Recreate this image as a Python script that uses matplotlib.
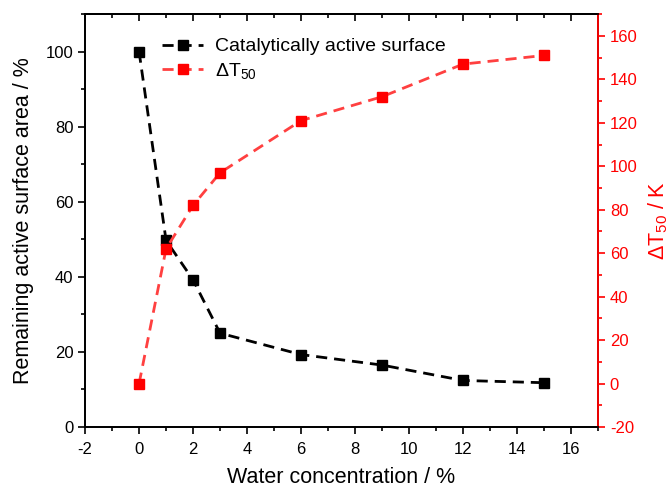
import matplotlib
matplotlib.use("Agg")
import matplotlib.pyplot as plt
from matplotlib.ticker import MultipleLocator

plt.rcParams["font.family"] = ["Liberation Sans", "DejaVu Sans"]
plt.rcParams["mathtext.default"] = "regular"
plt.rcParams["axes.unicode_minus"] = False

# data
water = [0, 1, 2, 3, 6, 9, 12, 15]
surface = [100, 49.7, 39.2, 25.0, 19.3, 16.5, 12.4, 11.8]
dT50 = [0, 62, 82, 97, 121, 132, 147, 151]

fig = plt.figure(figsize=(6.7, 4.88), dpi=100)
ax = fig.add_axes([0.127, 0.125, 0.7655, 0.846])
ax2 = ax.twinx()

l1, = ax.plot(water, surface, color="black", ls=(0, (4, 2.5)), lw=2,
              marker="s", ms=7, mec="black", mfc="black",
              label="Catalytically active surface")
l2, = ax2.plot(water, dT50, color="#ff4040", ls=(0, (4, 2.5)), lw=2,
               marker="s", ms=7, mec="red", mfc="red",
               label="ΔT$_{50}$")

ax.set_xlim(-2, 17)
ax.set_ylim(0, 110)
ax2.set_ylim(-20, 170)

ax.xaxis.set_major_locator(MultipleLocator(2))
ax.xaxis.set_minor_locator(MultipleLocator(1))
ax.yaxis.set_major_locator(MultipleLocator(20))
ax.yaxis.set_minor_locator(MultipleLocator(10))
ax2.yaxis.set_major_locator(MultipleLocator(20))
ax2.yaxis.set_minor_locator(MultipleLocator(10))

ax.tick_params(axis="x", which="major", length=5, width=1.2, labelsize=12, pad=6)
ax.tick_params(axis="x", which="minor", length=3, width=1.2)
ax.tick_params(axis="y", which="major", length=5, width=1.2, labelsize=12)
ax.tick_params(axis="y", which="minor", length=3, width=1.2)
ax2.tick_params(axis="y", which="major", length=5, width=1.2, labelsize=12,
                colors="red")
ax2.tick_params(axis="y", which="minor", length=3, width=1.2, colors="red")

# mirrored ticks on top point inward
top = ax.secondary_xaxis("top")
top.xaxis.set_major_locator(MultipleLocator(2))
top.xaxis.set_minor_locator(MultipleLocator(1))
top.tick_params(which="major", direction="in", length=5, width=1.2, labeltop=False)
top.tick_params(which="minor", direction="in", length=3, width=1.2)
top.spines["top"].set_linewidth(1.3)

for s in ax.spines.values():
    s.set_linewidth(1.3)
for s in ax2.spines.values():
    s.set_linewidth(1.3)
ax2.spines["right"].set_color("red")

ax.set_xlabel("Water concentration / %", fontsize=15.5, labelpad=7)
ax.set_ylabel("Remaining active surface area / %", fontsize=15.5, labelpad=8)
ax2.set_ylabel("ΔT$_{50}$ / K", fontsize=15.5, color="red", labelpad=6)

ax.legend([l1, l2], [l1.get_label(), l2.get_label()], loc="upper left",
          bbox_to_anchor=(0.116, 0.985), frameon=False, fontsize=14,
          handlelength=2.1, handletextpad=0.6, labelspacing=0.3)

fig.savefig("out.png", dpi=100)
